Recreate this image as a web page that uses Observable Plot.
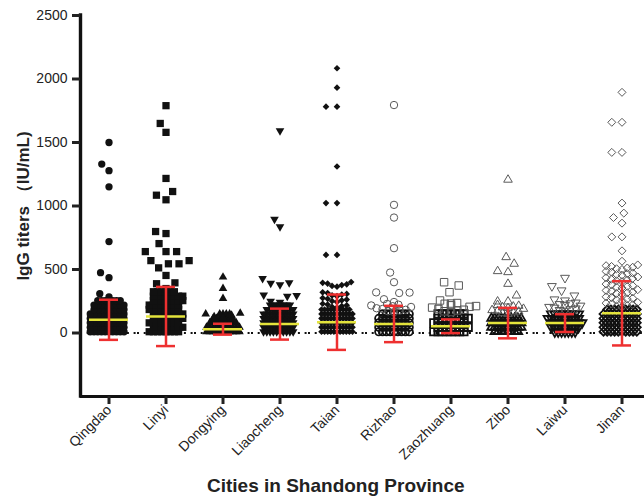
<!DOCTYPE html>
<html><head><meta charset="utf-8">
<script src="https://cdn.jsdelivr.net/npm/d3@7"></script>
<script src="https://cdn.jsdelivr.net/npm/@observablehq/plot@0.6"></script>
<style>
body{margin:0;overflow:hidden;background:#fff;font-family:"Liberation Sans",Arial,sans-serif}
#xlabel{font-weight:bold;font-size:19px;color:#222;margin-left:207px;line-height:22px;height:23px;white-space:nowrap}
g[aria-label="y-axis label"]{font-size:17px;font-weight:bold}
</style></head><body>
<div id="chart"></div>
<div id="xlabel">Cities in Shandong Province</div>
<script>
const cities = ["Qingdao","Linyi","Dongying","Liaocheng","Taian","Rizhao","Zaozhuang","Zibo","Laiwu","Jinan"];
const yTicks = [0, 500, 1000, 1500, 2000, 2500];
// value levels of the dense part of each swarm
const levels = [10, 45, 80, 115, 150, 185, 220, 255, 290, 325];
// number of points at each level
const qingdaoDense   = [10,10,10,10,10,9,9,7];
const linyiDense     = [8,8,8,8,8,8,8,8,8,6];
const dongyingDense  = [11,11,9,7,4];
const liaochengDense = [10,10,10,10,10,9,7];
const taianDense     = [11,11,11,11,11,10];
const rizhaoDense    = [9,9,9,9,8];
const zaozhuangDense = [8,8,8,8,7];
const ziboDense      = [8,10,10,10];
const laiwuDense     = [7,9,10,10,9];
const jinanDense     = [10,10,10,10,10,9];
// individually visible points in the chevron bands
const qingdaoBand   = [];
const linyiBand     = [];
const dongyingBand  = [];
const liaochengBand = [];
const taianBand     = [200,206,212,218,224,230, 245,251,257,263,269,275, 290,296,302,308,314,320, 365,371,377,383,389,395,401];
const rizhaoBand    = [165,171,177,183,189,195, 205,211,217,223,229];
const zaozhuangBand = [165,171,177,183,189, 200,206,212,218, 230,236];
const ziboBand      = [150,156,162,168,174,180, 190,196,202,208,214,220];
const laiwuBand     = [175,181,187,193,199,205, 215,221,227,233,239];
const jinanBand     = [205,211,217,223,229,235,241, 255,261,267,273,279,285, 305,311,317,323,329,335,341,
                       355,361,367,373,379,385, 405,411,417,423,429,435,441, 455,461,467,473,479,485,
                       500,506,512,518,524,530,536, 565];
// isolated high values
const qingdaoHigh   = [284, 310, 436, 475, 720, 1151, 1278, 1330, 1500];
const linyiHigh     = [350, 388, 395, 453, 513, 545, 545, 570, 570, 641, 641, 641, 704, 783, 799, 1049, 1085, 1114, 1217, 1580, 1650, 1790];
const dongyingHigh  = [120, 128, 140, 150, 155, 272, 350, 440];
const liaochengHigh = [243, 250, 290, 295, 300, 380, 392, 395, 429, 836, 896, 1593];
const taianHigh     = [615, 615, 1023, 1023, 1311, 1782, 1782, 1932, 2085];
const rizhaoHigh    = [244, 266, 315, 318, 320, 400, 476, 668, 909, 1009, 1795];
const zaozhuangHigh = [232, 256, 321, 374, 400];
const ziboHigh      = [248, 248, 295, 387, 479, 487, 545, 597, 1207];
const laiwuHigh     = [256, 264, 295, 335, 369, 434];
const jinanHigh     = [647, 757, 757, 865, 909, 944, 1023, 1422, 1422, 1659, 1659, 1895];
// mean and SD
const meanValues = [104, 130, 30, 70, 85, 71, 53, 78, 78, 155];
const sdValues   = [158, 233, 43, 122, 218, 143, 54, 120, 70, 253];

const denseByCity = [qingdaoDense, linyiDense, dongyingDense, liaochengDense, taianDense, rizhaoDense, zaozhuangDense, ziboDense, laiwuDense, jinanDense];
const bandByCity = [qingdaoBand, linyiBand, dongyingBand, liaochengBand, taianBand, rizhaoBand, zaozhuangBand, ziboBand, laiwuBand, jinanBand];
const highByCity = [qingdaoHigh, linyiHigh, dongyingHigh, liaochengHigh, taianHigh, rizhaoHigh, zaozhuangHigh, ziboHigh, laiwuHigh, jinanHigh];

const sqrt3 = Math.sqrt(3);
const triangleDown = {
  draw(context, size) {
    const y = -Math.sqrt(size / (sqrt3 * 3));
    context.moveTo(0, -y * 2);
    context.lineTo(-sqrt3 * y, y);
    context.lineTo(sqrt3 * y, y);
    context.closePath();
  }
};
const black = "#111", grey = "#5a5a5a";
const styles = [
  {symbol: "circle",   fill: black, r: 3.65, band: 5,   high: 2.5},
  {symbol: "square",   fill: black, r: 4.1,  band: 6,   high: 2.4},
  {symbol: "triangle", fill: black, r: 3.2,  band: 5,   high: 2.5},
  {symbol: triangleDown, fill: black, r: 3.2, band: 5,  high: 3},
  {symbol: "diamond2", fill: black, r: 3.0,  band: 5,   high: 5},
  {symbol: "circle",   stroke: grey, r: 3.7, band: 6,   high: 3},
  {symbol: "square",   stroke: grey, r: 4.2, band: 6.5, high: 3},
  {symbol: "triangle", stroke: grey, r: 3.2, band: 5.5, high: 4},
  {symbol: triangleDown, stroke: grey, r: 3.3, band: 5.5, high: 4},
  {symbol: "diamond2", stroke: grey, r: 3.6, band: 5.5, high: 3}
];

const marks = [
  Plot.ruleY([0], {stroke: black, strokeWidth: 2, strokeDasharray: "2,4.7"})
];
cities.forEach((city, i) => {
  const s = styles[i];
  const dense = denseByCity[i].flatMap((n, j) => Array.from({length: n}, () => ({city, value: levels[j]})));
  const band = bandByCity[i].map(value => ({city, value}));
  const high = highByCity[i].map(value => ({city, value}));
  const paint = (stroke, sw) => s.fill ? {fill: s.fill, stroke: "none"} : {fill: "none", stroke, strokeWidth: sw};
  const base = {fx: "city", y: "value", symbol: s.symbol, r: s.r};
  marks.push(Plot.dot(dense, Plot.dodgeX({anchor: "middle", padding: 0.1 - s.r}, {...base, ...paint("#111", 1.8)})));
  if (band.length) marks.push(Plot.dot(band, Plot.dodgeX({anchor: "middle", padding: s.band - 2 * s.r}, {...base, ...paint("#555", 1)})));
  marks.push(Plot.dot(high, Plot.dodgeX({anchor: "middle", padding: s.high}, {...base, ...paint(grey, 1)})));
});

const stats = cities.map((city, i) => ({city, mean: meanValues[i], sd: sdValues[i]}));
const yellow = "#e4e43c", red = "#ee3030";
marks.push(
  Plot.tickY(stats, {fx: "city", y: "mean", stroke: yellow, strokeWidth: 2.5, insetLeft: 9, insetRight: 9}),
  Plot.ruleX(stats, {fx: "city", x: () => 0, y1: d => d.mean - d.sd, y2: d => d.mean + d.sd, stroke: red, strokeWidth: 2.5}),
  Plot.tickY(stats, {fx: "city", y: d => d.mean + d.sd, stroke: red, strokeWidth: 2.5, insetLeft: 19, insetRight: 19}),
  Plot.tickY(stats, {fx: "city", y: d => d.mean - d.sd, stroke: red, strokeWidth: 2.5, insetLeft: 19, insetRight: 19}),
  Plot.ruleY([-500], {stroke: black, strokeWidth: 3.2}),
  Plot.ruleX([cities[0]], {fx: d => d, x: () => -1, y1: () => -500, y2: () => 2500, stroke: black, strokeWidth: 3.4, strokeLinecap: "square"}),
  Plot.axisY({ticks: yTicks, tickFormat: "d", tickSize: 8, tickPadding: 5, strokeWidth: 3, fontSize: 14,
    label: "IgG titers （IU/mL)", labelAnchor: "center", labelOffset: 64, labelArrow: "none"}),
  Plot.axisFx({anchor: "bottom", tickSize: 8, tickPadding: 3, tickRotate: -45, strokeWidth: 3, fontSize: 14, label: null})
);

const chart = Plot.plot({
  width: 644, height: 475,
  marginLeft: 79.5, marginRight: -5.5, marginTop: 15, marginBottom: 79,
  style: {fontFamily: "'Liberation Sans', Arial, sans-serif", color: "#222", background: "white"},
  x: {domain: [-1, 1], axis: null},
  y: {domain: [-500, 2500]},
  fx: {domain: cities, padding: 0},
  marks
});
document.getElementById("chart").append(chart);
</script>
</body></html>
